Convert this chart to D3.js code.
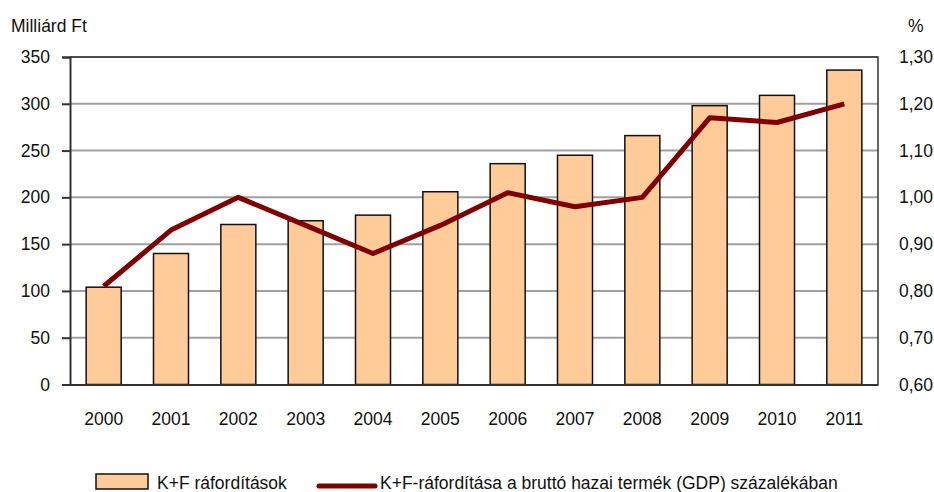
<!doctype html>
<head>
    <meta charset="UTF-8">
    <style>
        body { margin: 0; background: #fff; }
        text { font-family: "Liberation Sans", Arial, sans-serif; font-size: 17.5px; fill: #111; }
    </style>
</head>
<body>
    <svg id="chart" width="934" height="492"></svg>
    <script src="https://d3js.org/d3.v7.min.js"></script>
    <script>

        // data
        var years = ["2000", "2001", "2002", "2003", "2004", "2005", "2006", "2007", "2008", "2009", "2010", "2011"];
        var spending = [104, 140, 171, 175, 181, 206, 236, 245, 266, 298, 309, 336];
        var gdpShare = [0.81, 0.93, 1.00, 0.94, 0.88, 0.94, 1.01, 0.98, 1.00, 1.17, 1.16, 1.20];
        var leftTicks = [0, 50, 100, 150, 200, 250, 300, 350];
        var rightTicks = [0.6, 0.7, 0.8, 0.9, 1.0, 1.1, 1.2, 1.3];
        var barLabel = "K+F ráfordítások";
        var lineLabel = "K+F-ráfordítása a bruttó hazai termék (GDP) százalékában";

        var svg = d3.select("#chart");
        var plotLeft = 70, plotRight = 878, plotTop = 57, plotBottom = 384.5;

        var x = d3.scaleBand().domain(years).range([plotLeft, plotRight]).paddingInner(0.48).paddingOuter(0.24);
        var y = d3.scaleLinear().domain([0, 350]).range([plotBottom, plotTop]);
        var y2 = d3.scaleLinear().domain([0.6, 1.3]).range([plotBottom, plotTop]);

        // gridlines
        svg.append("g")
            .selectAll("line")
            .data(leftTicks.slice(1))
            .enter().append("line")
            .attr("x1", plotLeft).attr("x2", plotRight)
            .attr("y1", d => y(d)).attr("y2", d => y(d))
            .style("stroke", "#a0a0a0")
            .style("stroke-width", 2);

        // frame top and right
        svg.append("path")
            .attr("d", "M" + plotLeft + "," + plotTop + "H" + plotRight + "V" + plotBottom)
            .style("fill", "none")
            .style("stroke", "#333")
            .style("stroke-width", 1.5);

        // bars
        svg.append("g")
            .selectAll("rect")
            .data(spending)
            .enter().append("rect")
            .attr("x", (d, i) => x(years[i]))
            .attr("y", d => y(d))
            .attr("width", x.bandwidth())
            .attr("height", d => y(0) - y(d))
            .style("fill", "#ffcc99")
            .style("stroke", "#111")
            .style("stroke-width", 1.5);

        // left axis
        var yAxis = svg.append("g")
            .attr("transform", "translate(" + plotLeft + ",0)")
            .call(d3.axisLeft(y).tickValues(leftTicks).tickSize(8).tickPadding(12));
        yAxis.select(".domain").style("stroke", "#333").style("stroke-width", 2);
        yAxis.selectAll(".tick line").style("stroke", "#333").style("stroke-width", 2);

        // bottom axis
        var xAxis = svg.append("g")
            .attr("transform", "translate(0," + plotBottom + ")")
            .call(d3.axisBottom(x).tickSize(0).tickPadding(28));
        xAxis.select(".domain").style("stroke", "#333").style("stroke-width", 2);

        // right axis
        var yAxis2 = svg.append("g")
            .attr("transform", "translate(" + plotRight + ",0)")
            .call(d3.axisRight(y2).tickValues(rightTicks).tickSize(0).tickPadding(21)
                .tickFormat(d => d3.format(".2f")(d).replace(".", ",")));
        yAxis2.select(".domain").remove();

        svg.selectAll(".tick text").style("font-size", "17.5px").style("font-family", "'Liberation Sans', Arial, sans-serif").attr("fill", "#111");

        // line
        var line = d3.line()
            .x((d, i) => x(years[i]) + x.bandwidth() / 2)
            .y(d => y2(d));
        svg.append("path")
            .datum(gdpShare)
            .attr("d", line)
            .style("fill", "none")
            .style("stroke", "#800000")
            .style("stroke-width", 5)
            .style("stroke-linejoin", "round");

        // axis titles
        svg.append("text").attr("x", 11).attr("y", 32).text("Milliárd Ft");
        svg.append("text").attr("x", 908).attr("y", 32).text("%");

        // legend
        svg.append("rect")
            .attr("x", 96).attr("y", 474).attr("width", 52).attr("height", 15)
            .style("fill", "#ffcc99").style("stroke", "#111").style("stroke-width", 1.5);
        svg.append("text").attr("x", 157).attr("y", 489).text(barLabel);
        svg.append("line")
            .attr("x1", 319).attr("x2", 375).attr("y1", 486).attr("y2", 486)
            .style("stroke", "#800000").style("stroke-width", 5).style("stroke-linecap", "round");
        svg.append("text").attr("x", 380).attr("y", 489).text(lineLabel);

    </script>
</body>
